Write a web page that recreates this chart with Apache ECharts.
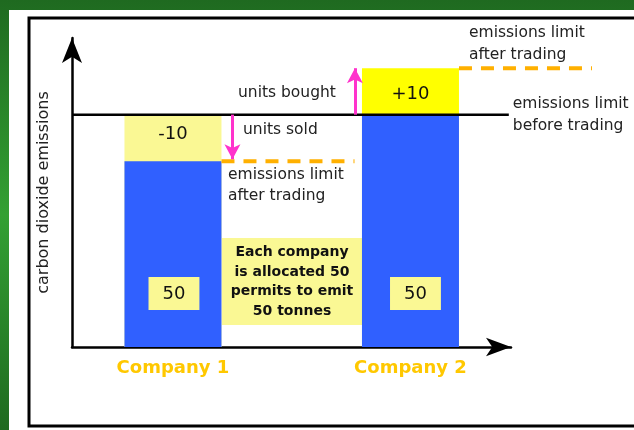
<!DOCTYPE html>
<html><head><meta charset="utf-8">
<script src="https://cdn.jsdelivr.net/npm/echarts@6/dist/echarts.min.js"></script>
<style>html,body{margin:0;padding:0;background:#fff}#c{width:634px;height:430px}</style>
</head><body><div id="c"></div>
<script>
// ---- data ----
const companies = ['Company 1', 'Company 2'];
const companyX = [23.0, 77.1];          // position of each company along the x axis (0..100)
const allocated = [50, 50];             // permits allocated (tonnes)
const traded = [-10, 10];               // units sold (-) / bought (+)
const limitBefore = 50;                 // emissions limit before trading
const limitAfter = allocated.map((a, i) => a + traded[i]);          // 40, 60
const blueValues = allocated.map((a, i) => Math.min(a, limitAfter[i]));
const topValues = allocated.map((a, i) => Math.max(a, limitAfter[i]));

// ---- layout helpers (data units) ----
const X_MAX = 100, Y_MAX = 66.5;
const PX_PER_X = 4.39;                  // grid width 439 / 100
const BAR_HALF = 11.05;
const DASH_LEN = 30.3;
const LIMIT_LINE_END = 99.5;
const FONT = '"DejaVu Sans", "Liberation Sans", sans-serif';
const TXT = '#222';
const LIGHT_Y = '#faf894';

const chart = echarts.init(document.getElementById('c'), null, {renderer: 'canvas'});

const tradeColors = traded.map(t => t < 0 ? LIGHT_Y : '#ffff00');

const arrowLines = traded.map((t, i) => {
  const x = t < 0 ? companyX[i] + BAR_HALF + 2.5 : companyX[i] - BAR_HALF - 1.6;
  const tipAdj = t < 0 ? 0.4 : 0;
  return [{coord: [x, limitBefore]}, {coord: [x, limitAfter[i] + tipAdj]}];
});

const dashedSeries = companies.map((c, i) => ({
  name: c + ' limit after trading',
  type: 'line',
  xAxisIndex: 1, yAxisIndex: 1,
  symbol: 'none',
  z: 3,
  silent: true,
  lineStyle: {color: '#ffb000', width: 4, type: [13, 9]},
  data: [[companyX[i] + BAR_HALF, limitAfter[i]], [companyX[i] + BAR_HALF + DASH_LEN, limitAfter[i]]]
}));

const hiddenAxis = {show: false, type: 'value', min: 0};

const option = {
  animation: false,
  backgroundColor: 'transparent',
  grid: [
    {left: 72, top: 38, width: 439, height: 309},
    {left: 72, top: 38, width: 562, height: 309}
  ],
  xAxis: [{
    type: 'value', min: 0, max: X_MAX, gridIndex: 0,
    axisLine: {show: true, symbol: ['none', 'arrow'], symbolSize: [14, 25], lineStyle: {color: '#000', width: 2.5}},
    axisTick: {show: false},
    splitLine: {show: false},
    axisLabel: {
      customValues: companyX,
      formatter: v => {
        let best = 0;
        companyX.forEach((x, i) => { if (Math.abs(x - v) < Math.abs(companyX[best] - v)) best = i; });
        return companies[best];
      },
      color: '#ffc800', fontSize: 18, fontWeight: 'bold', fontFamily: FONT, margin: 12
    }
  }, Object.assign({}, hiddenAxis, {gridIndex: 1, max: 562 / PX_PER_X})],
  yAxis: [{
    type: 'value', min: 0, max: Y_MAX, gridIndex: 0,
    axisLine: {show: true, symbol: ['none', 'arrow'], symbolSize: [15, 25], lineStyle: {color: '#000', width: 2.5}},
    axisTick: {show: false},
    axisLabel: {show: false},
    splitLine: {show: false},
    name: 'carbon dioxide emissions',
    nameLocation: 'middle',
    nameGap: 20,
    nameTextStyle: {color: TXT, fontSize: 16, fontFamily: FONT}
  }, Object.assign({}, hiddenAxis, {gridIndex: 1, max: Y_MAX})],
  series: [
    {
      name: 'After trading',
      type: 'bar',
      barWidth: 97,
      barGap: '-100%',
      label: {
        show: true, position: 'insideTop', distance: 12,
        formatter: p => (traded[p.dataIndex] > 0 ? '+' : '') + traded[p.dataIndex],
        color: '#111', fontSize: 18, fontFamily: FONT
      },
      data: companyX.map((x, i) => ({
        value: [x, topValues[i]],
        itemStyle: {color: tradeColors[i]},
        label: {distance: traded[i] > 0 ? 17 : 11}
      })),
      markLine: {
        silent: true,
        symbol: ['none', 'arrow'],
        symbolSize: [12, 15],
        label: {show: false},
        lineStyle: {color: '#ff33cc', width: 3, type: 'solid'},
        data: arrowLines
      }
    },
    {
      name: 'Allocated',
      type: 'bar',
      barWidth: 97,
      barGap: '-100%',
      itemStyle: {color: '#3060ff'},
      label: {
        show: true, position: 'insideBottom', distance: 37,
        formatter: p => String(allocated[p.dataIndex]),
        backgroundColor: LIGHT_Y, padding: [8, 14, 7, 14],
        color: '#111', fontSize: 18, fontFamily: FONT
      },
      data: companyX.map((x, i) => ({
        value: [x, blueValues[i]],
        label: {offset: [traded[i] > 0 ? 5 : 1, 0]}
      }))
    },
    {
      name: 'Limit before trading',
      type: 'line',
      xAxisIndex: 1, yAxisIndex: 1,
      symbol: 'none',
      z: 3,
      lineStyle: {color: '#000', width: 2.5},
      endLabel: {
        show: true, formatter: 'emissions limit\nbefore trading', distance: 4,
        color: TXT, fontSize: 15.5, fontFamily: FONT, lineHeight: 22, align: 'left'
      },
      data: [[0, limitBefore], [LIMIT_LINE_END, limitBefore]]
    },
    ...dashedSeries
  ],
  graphic: [
    {type: 'rect', z: -100, shape: {x: 0, y: 0, width: 634, height: 430},
      style: {fill: new echarts.graphic.LinearGradient(0, 0, 0, 1, [
        {offset: 0, color: '#1f6a20'}, {offset: 0.5, color: '#33a033'}, {offset: 1, color: '#1f6a20'}])}},
    {type: 'rect', z: -99, shape: {x: 9, y: 10, width: 625, height: 420}, style: {fill: '#fff'}},
    {type: 'rect', z: -98, shape: {x: 29, y: 18, width: 620, height: 408}, style: {fill: 'none', stroke: '#000', lineWidth: 3}},
    {type: 'group', x: 222, y: 238, z: 5, children: [
      {type: 'rect', shape: {x: 0, y: 0, width: 140, height: 87}, style: {fill: LIGHT_Y}},
      {type: 'text', x: 70, y: 44, style: {text: 'Each company\nis allocated 50\npermits to emit\n50 tonnes',
        fill: '#111', fontSize: 14, fontWeight: 'bold', fontFamily: FONT, lineHeight: 19.5, align: 'center', verticalAlign: 'middle'}}
    ]},
    {type: 'text', x: 238, y: 93, z: 5, style: {text: 'units bought', fill: TXT, fontSize: 15.5, fontFamily: FONT, verticalAlign: 'middle'}},
    {type: 'text', x: 243, y: 130, z: 5, style: {text: 'units sold', fill: TXT, fontSize: 15.5, fontFamily: FONT, verticalAlign: 'middle'}},
    {type: 'text', x: 228, y: 185.5, z: 5, style: {text: 'emissions limit\nafter trading', fill: TXT, fontSize: 15.5, fontFamily: FONT, lineHeight: 21, verticalAlign: 'middle'}},
    {type: 'text', x: 469, y: 44, z: 5, style: {text: 'emissions limit\nafter trading', fill: TXT, fontSize: 15.5, fontFamily: FONT, lineHeight: 22, verticalAlign: 'middle'}}
  ]
};
chart.setOption(option);
</script>
</body></html>
